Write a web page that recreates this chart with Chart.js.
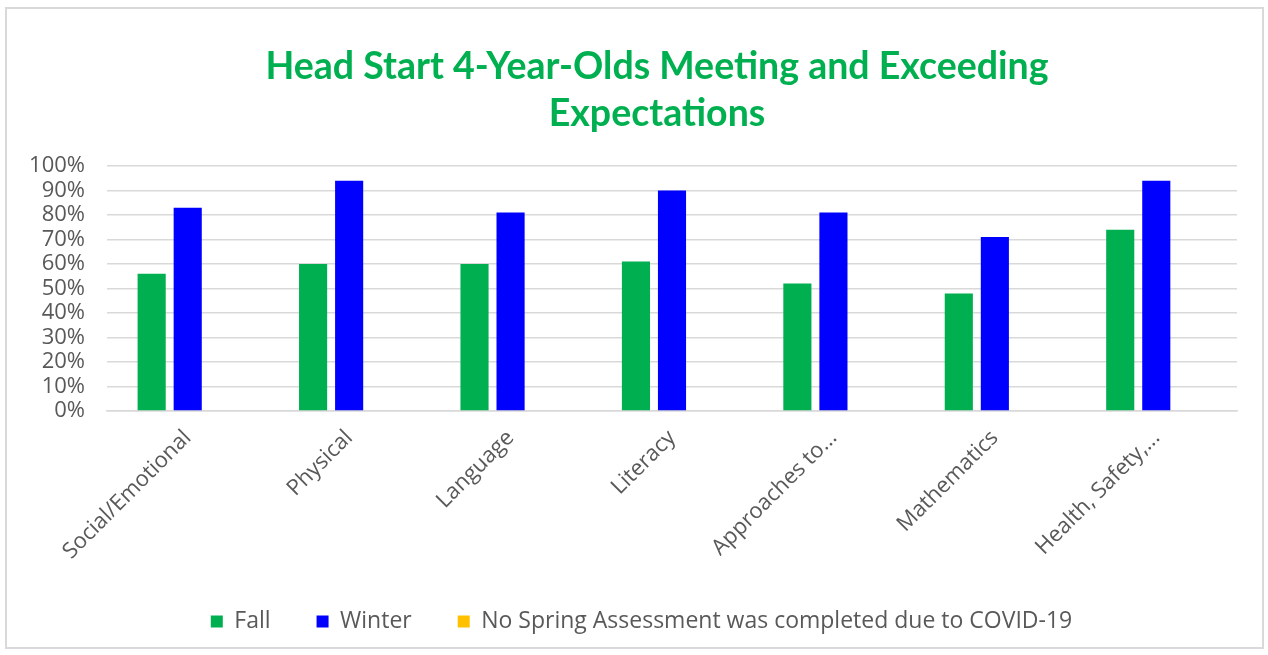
<!DOCTYPE html>
<html>
<head>
<meta charset="utf-8">
<script src="https://cdn.jsdelivr.net/npm/chart.js@4.4.0/dist/chart.umd.min.js"></script>
<style>
  html, body { margin: 0; padding: 0; background: #ffffff; }
  #wrap { position: absolute; left: 5px; top: 7px; width: 1259px; height: 642px; border: 2px solid #d9d9d9; box-sizing: border-box; }
  #c { position: absolute; left: 0; top: 0; }
</style>
</head>
<body>
<div id="wrap"></div>
<canvas id="c" width="1268" height="655"></canvas>
<script>
const titleLines = ["Head Start 4-Year-Olds Meeting and Exceeding", "Expectations"];
const categories = ["Social/Emotional", "Physical", "Language", "Literacy", "Approaches to...", "Mathematics", "Health, Safety,..."];
const fallValues = [56, 60, 60, 61, 52, 48, 74];
const winterValues = [83, 94, 81, 90, 81, 71, 94];
const springValues = [null, null, null, null, null, null, null];
const seriesNames = ["Fall", "Winter", "No Spring Assessment was completed due to COVID-19"];
const yTicks = [0, 10, 20, 30, 40, 50, 60, 70, 80, 90, 100];

const grey = '#595959';
const gridGrey = '#d9d9d9';

const titlePlugin = {
  id: 'centeredTitle',
  afterLayout(chart) {
    // nudge the legend block to the right, as in the reference
    if (chart.legend) { chart.legend.left += 18; chart.legend.right += 18; }
  },
  afterDraw(chart) {
    const ctx = chart.ctx;
    ctx.save();
    ctx.fillStyle = '#00B050';
    ctx.font = 'bold 37.5px Lato';
    ctx.textAlign = 'center';
    ctx.textBaseline = 'middle';
    ctx.fillText(titleLines[0], 657, 67);
    ctx.fillText(titleLines[1], 657, 114);
    ctx.restore();
  }
};

new Chart(document.getElementById('c'), {
  type: 'bar',
  data: {
    labels: categories,
    datasets: [
      { label: seriesNames[0], data: fallValues, backgroundColor: '#00B050' },
      { label: seriesNames[1], data: winterValues, backgroundColor: '#0000FF' },
      { label: seriesNames[2], data: springValues, backgroundColor: '#FFC000' }
    ]
  },
  plugins: [titlePlugin],
  options: {
    responsive: false,
    animation: false,
    devicePixelRatio: 1,
    layout: { padding: { left: 10, right: 31, top: 166, bottom: 12 } },
    datasets: { bar: { categoryPercentage: 0.67, barPercentage: 0.78 } },
    plugins: {
      title: { display: false },
      legend: {
        position: 'bottom',
        labels: {
          color: grey,
          font: { family: 'Open Sans', size: 23 },
          boxWidth: 12,
          boxHeight: 12,
          padding: 46
        }
      },
      tooltip: { enabled: false }
    },
    scales: {
      y: {
        min: 0, max: 100,
        afterBuildTicks: (s) => { s.ticks = yTicks.map(v => ({ value: v })); },
        afterFit: (s) => { s.width = 97; },
        ticks: {
          color: grey,
          font: { family: 'Open Sans', size: 22 },
          callback: (v) => v + '%',
          padding: 22,
          autoSkip: false
        },
        grid: { color: gridGrey, lineWidth: 1.5, drawTicks: false },
        border: { display: false }
      },
      x: {
        afterFit: (s) => { s.height = 153; },
        ticks: {
          color: grey,
          font: { family: 'Open Sans', size: 22 },
          minRotation: 45, maxRotation: 45,
          padding: 6
        },
        grid: { display: false },
        border: { color: gridGrey, width: 1.5 }
      }
    }
  }
});
</script>
</body>
</html>
